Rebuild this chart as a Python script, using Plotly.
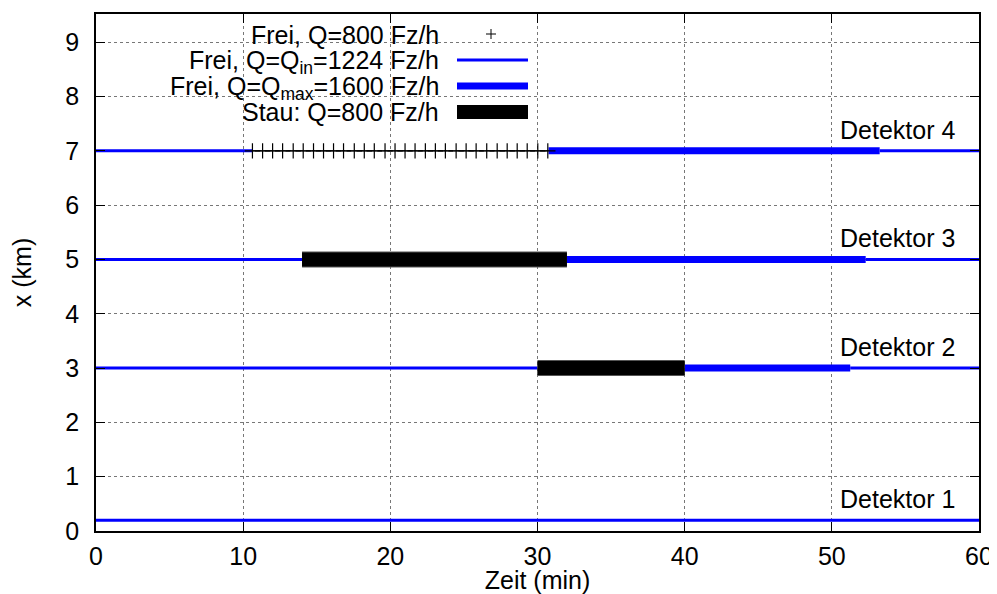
import plotly.graph_objects as go

# ---------------- data ----------------
detektor_names = ["Detektor 1", "Detektor 2", "Detektor 3", "Detektor 4"]
detektor_pos = [0.2, 3, 5, 7]          # km
label_time = [58.5, 58.5, 58.5, 58.5]  # min, right edge of label

# Frei, Q = Q_in = 1224 Fz/h  (thin blue segments)
qin_pos = [0.2, 3, 3, 5, 5, 7, 7]
qin_start = [0, 0, 51.25, 0, 52.3, 0, 53.25]
qin_end = [60, 30, 60, 14, 60, 10.6, 60]

# Frei, Q = Q_max = 1600 Fz/h (thick blue segments)
qmax_pos = [3, 5, 7]
qmax_start = [40, 32, 30.75]
qmax_end = [51.25, 52.3, 53.25]

# Stau: Q = 800 Fz/h (black bars)
stau_pos = [3, 5]
stau_start = [30, 14]
stau_end = [40, 32]

# Frei, Q = 800 Fz/h (crosses at Detektor 4)
frei800_pos = 7
frei800_t = [10.63, 11.32, 12.0, 12.68, 13.4, 14.08, 14.78, 15.46, 16.14, 16.82,
             17.55, 18.23, 18.91, 19.64, 20.32, 21.0, 21.68, 22.38, 23.06, 23.74,
             24.47, 25.15, 25.83, 26.55, 27.26, 27.94, 28.62, 29.3, 30.02, 30.7]

legend_labels = ["Frei, Q=800 Fz/h",
                 "Frei, Q=Q<sub>in</sub>=1224 Fz/h",
                 "Frei, Q=Q<sub>max</sub>=1600 Fz/h",
                 "Stau: Q=800 Fz/h"]

x_ticks = [0, 10, 20, 30, 40, 50, 60]
y_ticks = [0, 1, 2, 3, 4, 5, 6, 7, 8, 9]

# ---------------- layout constants ----------------
OFF = 8                      # default page body margin of the browser
W, H = 997 - OFF, 594 - OFF
ML, MR, MT, MB = 96 - OFF, 18, 14 - OFF, 63
PW, PH = W - ML - MR, H - MT - MB
FONT = "Liberation Sans, Arial, Helvetica, sans-serif"
FS = 25
BLUE = "#0000ff"


def px(X):
    """screen x (px) -> paper"""
    return (X - OFF - ML) / PW


def py(Y):
    """screen y (px) -> paper"""
    return (OFF + H - MB - Y) / PH


def segs(pos, t0, t1):
    xs, ys = [], []
    for p, a, b in zip(pos, t0, t1):
        xs += [a, b, None]
        ys += [p, p, None]
    return xs, ys


fig = go.Figure()

x, y = segs(qin_pos, qin_start, qin_end)
fig.add_trace(go.Scatter(x=x, y=y, mode="lines", line=dict(color=BLUE, width=3),
                         name="Frei, Q=Q_in=1224 Fz/h", showlegend=False, hoverinfo="skip"))

x, y = segs(qmax_pos, qmax_start, qmax_end)
fig.add_trace(go.Scatter(x=x, y=y, mode="lines", line=dict(color=BLUE, width=7),
                         name="Frei, Q=Q_max=1600 Fz/h", showlegend=False, hoverinfo="skip"))

x, y = segs(stau_pos, stau_start, stau_end)
fig.add_trace(go.Scatter(x=x, y=y, mode="lines", line=dict(color="#555555", width=16),
                         showlegend=False, hoverinfo="skip"))
fig.add_trace(go.Scatter(x=x, y=y, mode="lines", line=dict(color="black", width=14),
                         name="Stau: Q=800 Fz/h", showlegend=False, hoverinfo="skip"))

fig.add_trace(go.Scatter(x=frei800_t, y=[frei800_pos] * len(frei800_t),
                         mode="lines+markers",
                         line=dict(color="black", width=1),
                         marker=dict(symbol="cross-thin", size=11,
                                     line=dict(color="black", width=1.2)),
                         name="Frei, Q=800 Fz/h", showlegend=False, hoverinfo="skip"))

annotations = []
for name, pos, t in zip(detektor_names, detektor_pos, label_time):
    annotations.append(dict(x=t, y=pos, xref="x", yref="y", text=name,
                            showarrow=False, xanchor="right", yanchor="bottom",
                            yshift=5, font=dict(family=FONT, size=FS, color="black")))

# manual key (text left, sample right, as in gnuplot)
row_Y = [35, 62, 88, 112]
samp_Y = [34, 60, 86, 112]
text_right = 441
samp0, samp1 = 457, 528
shapes = [dict(type="rect", xref="paper", yref="paper",
               x0=px(155), x1=px(540), y0=py(124), y1=py(22),
               fillcolor="white", line=dict(width=0), layer="between")]
for lab, Y in zip(legend_labels, row_Y):
    annotations.append(dict(x=px(text_right), y=py(Y), xref="paper", yref="paper",
                            text=lab, showarrow=False, xanchor="right", yanchor="middle",
                            font=dict(family=FONT, size=FS, color="black")))
# cross sample
shapes.append(dict(type="line", xref="paper", yref="paper",
                   x0=px(486), x1=px(496), y0=py(samp_Y[0]), y1=py(samp_Y[0]),
                   line=dict(color="black", width=1)))
shapes.append(dict(type="line", xref="paper", yref="paper",
                   x0=px(491), x1=px(491), y0=py(samp_Y[0] - 5), y1=py(samp_Y[0] + 5),
                   line=dict(color="black", width=1)))
# line samples
for Y, col, w in [(samp_Y[1], BLUE, 3), (samp_Y[2], BLUE, 7), (samp_Y[3], "black", 14)]:
    shapes.append(dict(type="line", xref="paper", yref="paper",
                       x0=px(samp0), x1=px(samp1), y0=py(Y), y1=py(Y),
                       line=dict(color=col, width=w)))

axis_common = dict(showline=True, linecolor="black", linewidth=1.5, mirror="ticks",
                   ticks="inside", ticklen=9, tickwidth=1.2, tickcolor="black",
                   showgrid=True, gridcolor="#777777", gridwidth=1, griddash="dot",
                   zeroline=False, automargin=False,
                   tickfont=dict(family=FONT, size=FS, color="black"))

fig.update_layout(
    width=W, height=H,
    margin=dict(l=ML, r=MR, t=MT, b=MB),
    paper_bgcolor="white", plot_bgcolor="white",
    showlegend=False,
    xaxis=dict(range=[0, 60], tickvals=x_ticks, ticklabelstandoff=2,
               title=dict(text="Zeit (min)", standoff=3,
                          font=dict(family=FONT, size=FS, color="black")),
               **axis_common),
    yaxis=dict(range=[0, 9.52], tickvals=y_ticks, ticklabelstandoff=10,
               title=dict(text="x (km)", standoff=34,
                          font=dict(family=FONT, size=FS, color="black")),
               **axis_common),
    annotations=annotations,
    shapes=shapes,
)

fig.write_html("out.html")
